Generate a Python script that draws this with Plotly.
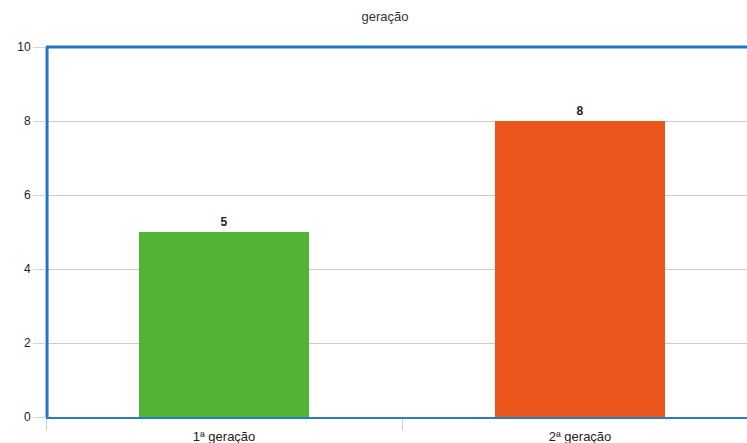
import plotly.graph_objects as go

categories = ["1ª geração", "2ª geração"]
values = [5, 8]
colors = ["#52b435", "#eb561d"]
y_ticks = [0, 2, 4, 6, 8, 10]

fig = go.Figure(
    go.Bar(
        x=categories,
        y=values,
        marker=dict(color=colors, line=dict(width=0)),
        width=0.478,
        text=values,
        texttemplate="<b>%{text}</b>",
        textposition="outside",
        textfont=dict(size=12, color="#222", family="Liberation Sans, Arial, sans-serif"),
        cliponaxis=False,
    )
)

fig.update_layout(
    width=747,
    height=443,
    margin=dict(l=46, r=0, t=47, b=26, autoexpand=False),
    paper_bgcolor="white",
    plot_bgcolor="white",
    font=dict(family="Liberation Sans, Arial, sans-serif", color="#222"),
    title=dict(text="geração", x=385 / 747, xanchor="center", y=0.962, yanchor="middle",
               font=dict(size=13, color="#333")),
    showlegend=False,
    bargap=0,
    shapes=[
        dict(type="line", xref="paper", yref="paper", x0=0, x1=1, y0=1, y1=1,
             line=dict(color="#1f77c4", width=3)),
        dict(type="line", xref="paper", yref="paper", x0=0.0015, x1=0.0015, y0=0, y1=1,
             line=dict(color="#1f77c4", width=3)),
    ],
)

fig.update_xaxes(
    type="category",
    range=[-0.5, -0.5 + 701 / 356],
    showgrid=False,
    showline=True,
    linecolor="#2a7bc6",
    linewidth=2,
    ticks="outside",
    tickson="boundaries",
    ticklen=12,
    tickcolor="#d0d0d0",
    tickfont=dict(size=13, color="#222"),
    ticklabelstandoff=6,
    automargin=False,
    fixedrange=True,
)

fig.update_yaxes(
    range=[0, 10],
    tickvals=y_ticks,
    showgrid=True,
    gridcolor="#cccccc",
    gridwidth=1,
    showline=False,
    ticks="outside",
    ticklen=12,
    tickcolor="#cfd6de",
    tickfont=dict(size=12, color="#222"),
    zeroline=False,
    automargin=False,
    fixedrange=True,
)

fig.write_html("out.html", config={"displayModeBar": False})
